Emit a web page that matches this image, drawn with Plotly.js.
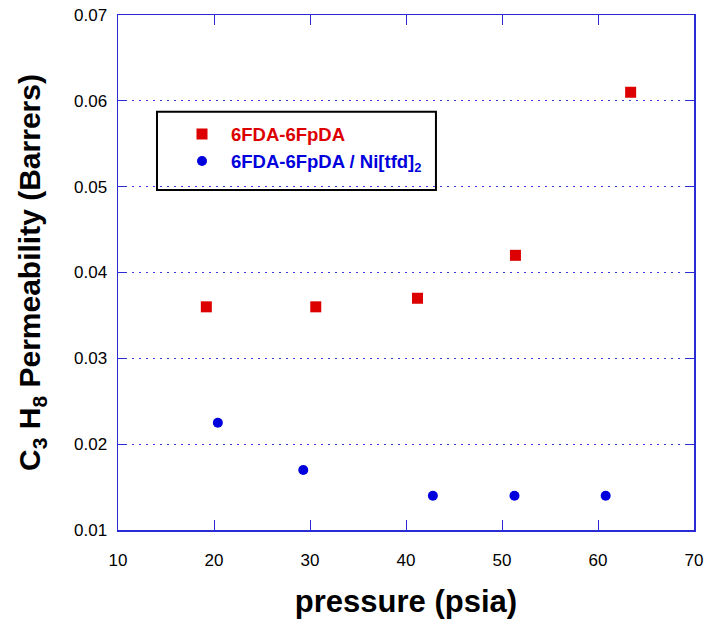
<!DOCTYPE html>
<html>
<head>
<meta charset="utf-8">
<script src="https://cdn.plot.ly/plotly-3.0.1.min.js"></script>
<style>html,body{margin:0;padding:0;background:#fff;}#chart{width:704px;height:619px;}</style>
</head>
<body>
<div id="chart"></div>
<script>
const pureX = [19.2, 30.6, 41.2, 51.4, 63.4];
const pureY = [0.036, 0.036, 0.037, 0.042, 0.061];
const niX = [20.4, 29.3, 42.8, 51.3, 60.8];
const niY = [0.0225, 0.017, 0.014, 0.014, 0.014];
const pureName = '6FDA-6FpDA';
const niName = '6FDA-6FpDA / Ni[tfd]<sub>2</sub>';
const xTicks = [10, 20, 30, 40, 50, 60, 70];
const yTicks = [0.01, 0.02, 0.03, 0.04, 0.05, 0.06, 0.07];

const axisBlue = '#2b2bd6';
const traces = [
  {x: pureX, y: pureY, name: pureName, mode: 'markers', type: 'scatter',
   marker: {symbol: 'square', size: 11, color: '#dd0000'}},
  {x: niX, y: niY, name: niName, mode: 'markers', type: 'scatter',
   marker: {symbol: 'circle', size: 10, color: '#0000dd'}}
];
const layout = {
  width: 704, height: 619,
  margin: {l: 118, r: 10, t: 15, b: 89},
  paper_bgcolor: '#fff', plot_bgcolor: '#fff',
  font: {family: 'Liberation Sans, Arial, sans-serif', color: '#000'},
  showlegend: true,
  legend: {x: 0.0955, y: 0.805, xanchor: 'left', yanchor: 'top',
    bgcolor: 'rgba(0,0,0,0)', borderwidth: 0, itemwidth: 48,
    font: {size: 18.5, weight: 'bold', family: 'Liberation Sans, Arial, sans-serif'}},
  xaxis: {range: [10, 70], tickvals: xTicks, ticktext: xTicks.map(String),
    ticks: 'inside', ticklen: 10, tickcolor: axisBlue, tickwidth: 1,
    showline: true, linecolor: axisBlue, linewidth: 1.5, mirror: 'ticks',
    showgrid: false, zeroline: false, ticklabelstandoff: 14,
    tickfont: {size: 17},
    title: {text: '<b>pressure (psia)</b>', font: {size: 31}, standoff: 22}},
  yaxis: {range: [0.01, 0.07], tickvals: yTicks, ticktext: yTicks.map(v => v.toFixed(2)),
    ticks: 'inside', ticklen: 8, tickcolor: axisBlue, tickwidth: 1,
    showline: true, linecolor: axisBlue, linewidth: 1.5, mirror: 'ticks',
    showgrid: true, gridcolor: '#3a3ae0', griddash: '2px,5px', gridwidth: 1,
    zeroline: false, ticklabelstandoff: 6,
    tickfont: {size: 17},
    title: {text: '<b>C<sub>3</sub> H<sub>8</sub> Permeability (Barrers)</b>', font: {size: 30}, standoff: 24}},
  shapes: [{type: 'rect', xref: 'paper', yref: 'paper',
    x0: 0.0677, x1: 0.552, y0: 0.660, y1: 0.812,
    line: {color: '#000', width: 2}, fillcolor: 'rgba(0,0,0,0)'}]
};
Plotly.newPlot('chart', traces, layout, {displayModeBar: false, staticPlot: true}).then(() => {
  const items = document.querySelectorAll('.legend .traces text.legendtext');
  if (items[0]) items[0].style.fill = '#dd0000';
  if (items[1]) items[1].style.fill = '#0000dd';
});
</script>
</body>
</html>
